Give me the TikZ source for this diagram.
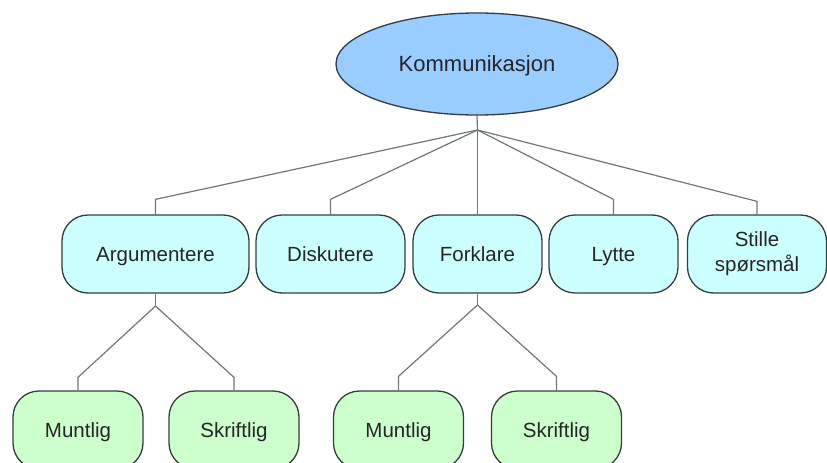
\documentclass[tikz,border=0pt]{standalone}
\usepackage{fontspec}
\setmainfont{Liberation Sans}
\usetikzlibrary{shapes.geometric}
\definecolor{ellfill}{RGB}{153,204,255}
\definecolor{cyanfill}{RGB}{204,255,255}
\definecolor{greenfill}{RGB}{204,255,204}
\definecolor{borderc}{RGB}{55,60,60}
\definecolor{linec}{RGB}{110,120,120}
\tikzset{
  topell/.style={ellipse, draw=borderc, line width=1.3pt, fill=ellfill, inner sep=0pt,
    minimum width=282pt, minimum height=102pt, font=\fontsize{22}{26}\selectfont, text=black!85,
    text height=15.7pt, text depth=0pt},
  boxbase/.style={rectangle, rounded corners=26pt, draw=borderc, line width=1.3pt,
    inner sep=0pt, minimum height=78pt, align=center, font=\fontsize{20.5}{25}\selectfont, text=black!85},
  oneline/.style={text height=14.7pt, text depth=0pt},
  lvlone/.style={boxbase, fill=cyanfill},
  lvltwo/.style={boxbase, fill=greenfill, minimum width=130pt, oneline},
  conn/.style={draw=linec, line width=1.2pt}
}
\begin{document}
\begin{tikzpicture}[x=1pt,y=-1pt]
\useasboundingbox (0,0) rectangle (827,463);
\node[topell] (K) at (477,64) {Kommunikasjon};
\node[lvlone, oneline, minimum width=187pt] (A) at (155.5,254) {Argumentere};
\node[lvlone, oneline, minimum width=149pt] (D) at (330.5,254) {Diskutere};
\node[lvlone, oneline, minimum width=129pt] (F) at (477.5,254) {Forklare};
\node[lvlone, oneline, minimum width=129pt] (L) at (613.5,254) {Lytte};
\node[lvlone, minimum width=139pt] (S) at (757,254) {Stille\\spørsmål};
\node[lvltwo] (M1) at (78,430) {Muntlig};
\node[lvltwo] (S1) at (234,430) {Skriftlig};
\node[lvltwo] (M2) at (398.5,430) {Muntlig};
\node[lvltwo] (S2) at (556.5,430) {Skriftlig};
\coordinate (j0) at (477.5,130);
\coordinate (j1) at (155.5,306);
\coordinate (j2) at (477.5,305);
\draw[conn] (K.south) -- (j0);
\draw[conn] (j0) -- ([yshift=15pt]A.north) -- (A.north);
\draw[conn] (j0) -- ([yshift=15pt]D.north) -- (D.north);
\draw[conn] (j0) -- (F.north);
\draw[conn] (j0) -- ([yshift=15pt]L.north) -- (L.north);
\draw[conn] (j0) -- ([yshift=13pt]S.north) -- (S.north);
\draw[conn] (A.south) -- (j1);
\draw[conn] (j1) -- ([yshift=13pt]M1.north) -- (M1.north);
\draw[conn] (j1) -- ([yshift=13pt]S1.north) -- (S1.north);
\draw[conn] (F.south) -- (j2);
\draw[conn] (j2) -- ([yshift=14pt]M2.north) -- (M2.north);
\draw[conn] (j2) -- ([yshift=14pt]S2.north) -- (S2.north);
\end{tikzpicture}
\end{document}
